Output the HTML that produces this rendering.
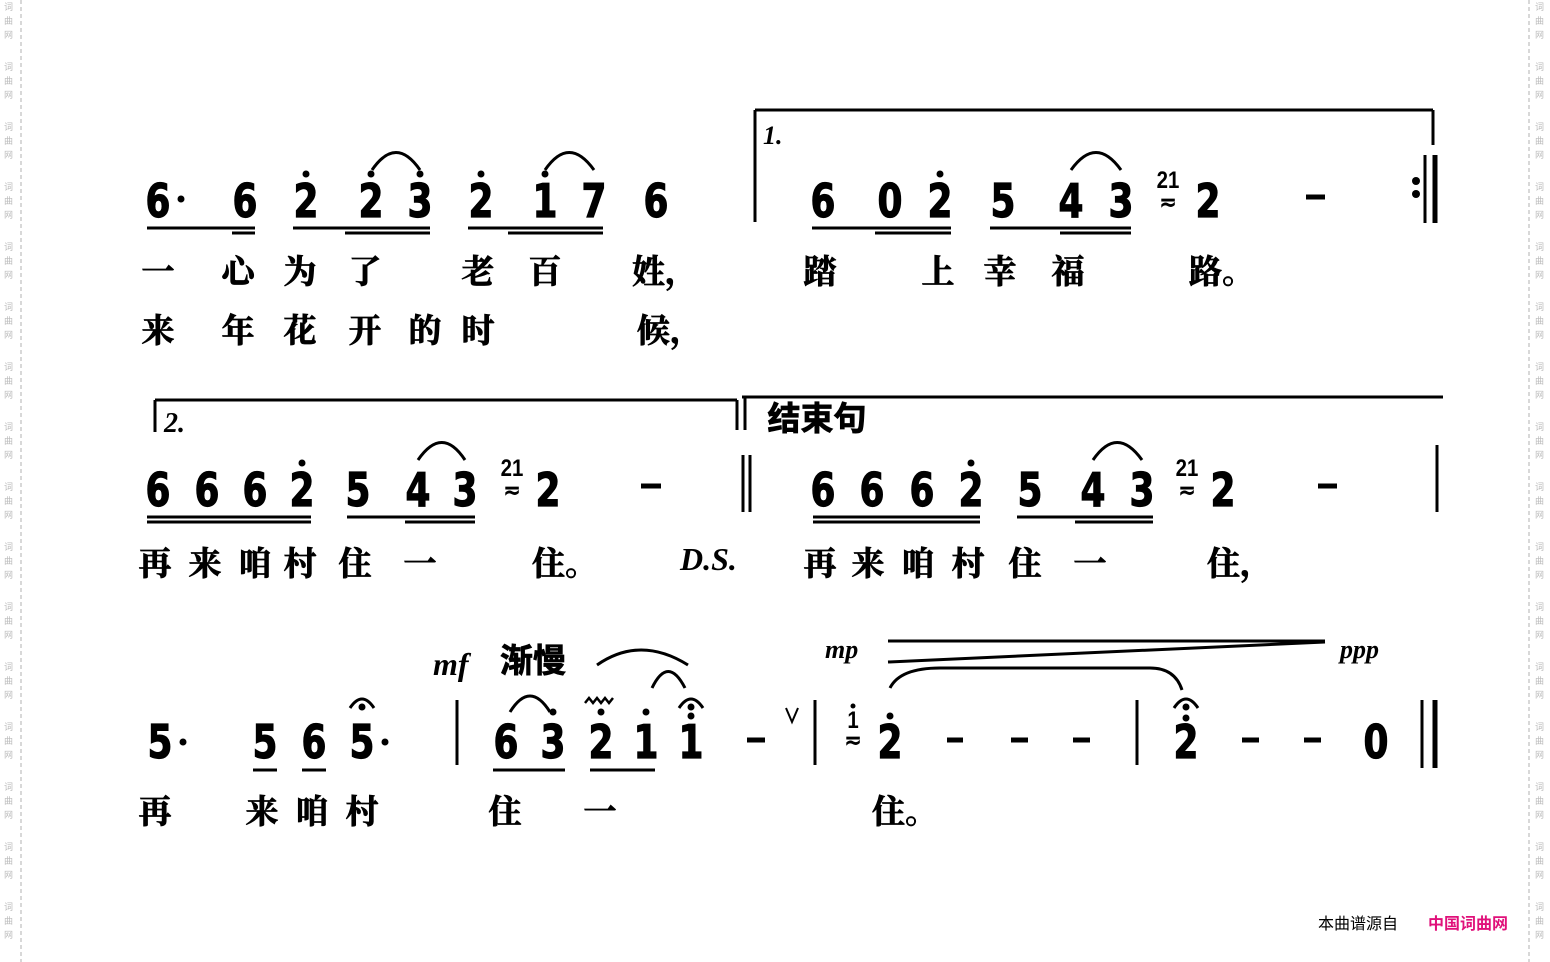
<!DOCTYPE html>
<html><head><meta charset="utf-8"><style>
html,body{margin:0;padding:0;background:#fff;}
svg{display:block}
.d{font-family:"DejaVu Sans","Liberation Sans",sans-serif;font-weight:bold;font-size:46px;text-anchor:middle;fill:#000;stroke:#000;stroke-width:1.2}
.d text{transform-box:fill-box;transform-origin:center;transform:scaleX(0.78)}
.s{font-family:"Liberation Sans",sans-serif;font-weight:bold;font-size:24px;text-anchor:middle;fill:#000;transform-box:fill-box;transform-origin:center;transform:scaleX(0.85)}
.l{font-family:"Liberation Serif","Noto Serif CJK SC",serif;font-weight:bold;font-size:33px;text-anchor:middle;fill:#000;stroke:#000;stroke-width:0.8}
.i{font-family:"Liberation Serif",serif;font-style:italic;font-weight:bold;fill:#000}
.m{font-family:"Noto Sans CJK SC",sans-serif;font-size:9px;fill:#bbb}
</style></head><body>
<svg width="1550" height="962" viewBox="0 0 1550 962" xmlns="http://www.w3.org/2000/svg">
<g stroke="#ccc" stroke-dasharray="4,3" stroke-width="1.5"><line x1="21" y1="0" x2="21" y2="962"/><line x1="1529" y1="0" x2="1529" y2="962"/></g>
<g class="m">
<text x="4" y="10">词</text><text x="4" y="24">曲</text><text x="4" y="38">网</text>
<text x="4" y="70">词</text><text x="4" y="84">曲</text><text x="4" y="98">网</text>
<text x="4" y="130">词</text><text x="4" y="144">曲</text><text x="4" y="158">网</text>
<text x="4" y="190">词</text><text x="4" y="204">曲</text><text x="4" y="218">网</text>
<text x="4" y="250">词</text><text x="4" y="264">曲</text><text x="4" y="278">网</text>
<text x="4" y="310">词</text><text x="4" y="324">曲</text><text x="4" y="338">网</text>
<text x="4" y="370">词</text><text x="4" y="384">曲</text><text x="4" y="398">网</text>
<text x="4" y="430">词</text><text x="4" y="444">曲</text><text x="4" y="458">网</text>
<text x="4" y="490">词</text><text x="4" y="504">曲</text><text x="4" y="518">网</text>
<text x="4" y="550">词</text><text x="4" y="564">曲</text><text x="4" y="578">网</text>
<text x="4" y="610">词</text><text x="4" y="624">曲</text><text x="4" y="638">网</text>
<text x="4" y="670">词</text><text x="4" y="684">曲</text><text x="4" y="698">网</text>
<text x="4" y="730">词</text><text x="4" y="744">曲</text><text x="4" y="758">网</text>
<text x="4" y="790">词</text><text x="4" y="804">曲</text><text x="4" y="818">网</text>
<text x="4" y="850">词</text><text x="4" y="864">曲</text><text x="4" y="878">网</text>
<text x="4" y="910">词</text><text x="4" y="924">曲</text><text x="4" y="938">网</text>
<text x="1535" y="10">词</text><text x="1535" y="24">曲</text><text x="1535" y="38">网</text>
<text x="1535" y="70">词</text><text x="1535" y="84">曲</text><text x="1535" y="98">网</text>
<text x="1535" y="130">词</text><text x="1535" y="144">曲</text><text x="1535" y="158">网</text>
<text x="1535" y="190">词</text><text x="1535" y="204">曲</text><text x="1535" y="218">网</text>
<text x="1535" y="250">词</text><text x="1535" y="264">曲</text><text x="1535" y="278">网</text>
<text x="1535" y="310">词</text><text x="1535" y="324">曲</text><text x="1535" y="338">网</text>
<text x="1535" y="370">词</text><text x="1535" y="384">曲</text><text x="1535" y="398">网</text>
<text x="1535" y="430">词</text><text x="1535" y="444">曲</text><text x="1535" y="458">网</text>
<text x="1535" y="490">词</text><text x="1535" y="504">曲</text><text x="1535" y="518">网</text>
<text x="1535" y="550">词</text><text x="1535" y="564">曲</text><text x="1535" y="578">网</text>
<text x="1535" y="610">词</text><text x="1535" y="624">曲</text><text x="1535" y="638">网</text>
<text x="1535" y="670">词</text><text x="1535" y="684">曲</text><text x="1535" y="698">网</text>
<text x="1535" y="730">词</text><text x="1535" y="744">曲</text><text x="1535" y="758">网</text>
<text x="1535" y="790">词</text><text x="1535" y="804">曲</text><text x="1535" y="818">网</text>
<text x="1535" y="850">词</text><text x="1535" y="864">曲</text><text x="1535" y="878">网</text>
<text x="1535" y="910">词</text><text x="1535" y="924">曲</text><text x="1535" y="938">网</text>
</g>

<!-- ROW 1 -->
<g stroke="#000" stroke-width="3" fill="none">
<line x1="755" y1="110" x2="1433" y2="110"/><line x1="755" y1="110" x2="755" y2="222"/><line x1="1433" y1="110" x2="1433" y2="145"/>
<line x1="1425" y1="155" x2="1425" y2="223"/><line x1="1435" y1="155" x2="1435" y2="223" stroke-width="5"/>
<line x1="147" y1="228" x2="255" y2="228"/><line x1="232" y1="233" x2="255" y2="233"/>
<line x1="293" y1="228" x2="430" y2="228"/><line x1="345" y1="233" x2="430" y2="233"/>
<line x1="468" y1="228" x2="603" y2="228"/><line x1="508" y1="233" x2="603" y2="233"/>
<line x1="812" y1="228" x2="951" y2="228"/><line x1="875" y1="233" x2="951" y2="233"/>
<line x1="990" y1="228" x2="1131" y2="228"/><line x1="1060" y1="233" x2="1131" y2="233"/>
<path d="M372 170 Q396 135 420 170"/><path d="M545 170 Q569 135 594 170"/><path d="M1071 170 Q1096 135 1121 170"/>
<line x1="1306" y1="197" x2="1325" y2="197" stroke-width="5"/>
</g>
<g fill="#000"><circle cx="1416" cy="181" r="4"/><circle cx="1416" cy="194" r="4"/>
<circle cx="306" cy="174" r="3.5"/><circle cx="371" cy="174" r="3.5"/><circle cx="420" cy="174" r="3.5"/><circle cx="481" cy="174" r="3.5"/><circle cx="545" cy="174" r="3.5"/><circle cx="940" cy="174" r="3.5"/>
<circle cx="181" cy="199" r="3.5"/></g>
<text class="i" x="763" y="144" font-size="26">1.</text>
<g class="d"><text x="158" y="217">6</text><text x="245" y="217">6</text><text x="306" y="217">2</text><text x="371" y="217">2</text><text x="420" y="217">3</text><text x="481" y="217">2</text><text x="545" y="217">1</text><text x="594" y="217">7</text><text x="656" y="217">6</text>
<text x="823" y="217">6</text><text x="890" y="217">0</text><text x="940" y="217">2</text><text x="1003" y="217">5</text><text x="1071" y="217">4</text><text x="1121" y="217">3</text><text x="1208" y="217">2</text></g>
<text class="s" x="1168" y="188">21</text><text class="s" x="1168" y="210" font-size="22">≂</text>
<g class="l"><text x="158" y="283">一</text><text x="238" y="283">心</text><text x="300" y="283">为</text><text x="365" y="283">了</text><text x="478" y="283">老</text><text x="545" y="283">百</text><text x="665" y="283">姓，</text><text x="820" y="283">踏</text><text x="938" y="283">上</text><text x="1000" y="283">幸</text><text x="1068" y="283">福</text><text x="1222" y="283">路。</text>
<text x="158" y="342">来</text><text x="238" y="342">年</text><text x="300" y="342">花</text><text x="365" y="342">开</text><text x="425" y="342">的</text><text x="478" y="342">时</text><text x="670" y="342">候，</text></g>

<!-- ROW 2 -->
<g stroke="#000" stroke-width="3" fill="none">
<line x1="155" y1="400" x2="737" y2="400"/><line x1="155" y1="400" x2="155" y2="432"/><line x1="737" y1="400" x2="737" y2="430"/>
<line x1="742" y1="397" x2="1443" y2="397"/><line x1="745" y1="397" x2="745" y2="430"/>
<line x1="743" y1="455" x2="743" y2="512"/><line x1="750" y1="455" x2="750" y2="512"/>
<line x1="1437" y1="445" x2="1437" y2="512"/>
<line x1="147" y1="517" x2="311" y2="517"/><line x1="147" y1="522" x2="311" y2="522"/>
<line x1="347" y1="517" x2="475" y2="517"/><line x1="405" y1="522" x2="475" y2="522"/>
<line x1="813" y1="517" x2="980" y2="517"/><line x1="813" y1="522" x2="980" y2="522"/>
<line x1="1017" y1="517" x2="1153" y2="517"/><line x1="1075" y1="522" x2="1153" y2="522"/>
<path d="M418 460 Q442 425 465 460"/><path d="M1093 460 Q1117 425 1142 460"/>
<line x1="641" y1="486" x2="661" y2="486" stroke-width="5"/><line x1="1318" y1="486" x2="1337" y2="486" stroke-width="5"/>
</g>
<g fill="#000"><circle cx="302" cy="463" r="3.5"/><circle cx="971" cy="463" r="3.5"/></g>
<text class="i" x="164" y="432" font-size="28">2.</text>
<text class="l" x="817" y="430" font-size="32" style="font-family:'Noto Sans CJK SC',sans-serif">结束句</text>
<g class="d"><text x="158" y="506">6</text><text x="207" y="506">6</text><text x="255" y="506">6</text><text x="302" y="506">2</text><text x="358" y="506">5</text><text x="418" y="506">4</text><text x="465" y="506">3</text><text x="548" y="506">2</text>
<text x="823" y="506">6</text><text x="872" y="506">6</text><text x="922" y="506">6</text><text x="971" y="506">2</text><text x="1030" y="506">5</text><text x="1093" y="506">4</text><text x="1142" y="506">3</text><text x="1223" y="506">2</text></g>
<text class="s" x="512" y="476">21</text><text class="s" x="512" y="498" font-size="22">≂</text>
<text class="s" x="1187" y="476">21</text><text class="s" x="1187" y="498" font-size="22">≂</text>
<g class="l"><text x="155" y="575">再</text><text x="205" y="575">来</text><text x="255" y="575">咱</text><text x="300" y="575">村</text><text x="355" y="575">住</text><text x="420" y="575">一</text><text x="565" y="575">住。</text>
<text x="820" y="575">再</text><text x="868" y="575">来</text><text x="918" y="575">咱</text><text x="968" y="575">村</text><text x="1025" y="575">住</text><text x="1090" y="575">一</text><text x="1240" y="575">住，</text></g>
<text class="i" x="680" y="570" font-size="32">D.S.</text>

<!-- ROW 3 -->
<g stroke="#000" stroke-width="3" fill="none">
<line x1="888" y1="641" x2="1325" y2="641"/><line x1="888" y1="662" x2="1325" y2="642"/>
<line x1="457" y1="700" x2="457" y2="765"/><line x1="815" y1="700" x2="815" y2="765"/><line x1="1137" y1="700" x2="1137" y2="765"/>
<line x1="1422" y1="700" x2="1422" y2="768"/><line x1="1435" y1="700" x2="1435" y2="768" stroke-width="5"/>
<line x1="253" y1="770" x2="277" y2="770"/><line x1="302" y1="770" x2="326" y2="770"/>
<line x1="493" y1="770" x2="565" y2="770"/><line x1="590" y1="770" x2="655" y2="770"/>
<path d="M510 712 Q530 680 550 712"/><path d="M597 665 Q640 635 688 665"/><path d="M652 688 Q668 655 685 688"/>
<path d="M890 688 Q900 668 940 668 L1150 668 Q1175 668 1182 690"/>
<path d="M350 708 Q362 690 374 708"/><path d="M679 708 Q691 690 703 708"/><path d="M1174 708 Q1186 690 1198 708"/>
<path d="M585 703 l4 -5 l4 5 l4 -5 l4 5 l4 -5 l4 5 l4 -5" stroke-width="2.5"/>
<path d="M786 708 L792 722 L798 708" stroke-width="2"/>
<line x1="747" y1="740" x2="765" y2="740" stroke-width="5"/>
<line x1="947" y1="740" x2="963" y2="740" stroke-width="5"/><line x1="1011" y1="740" x2="1028" y2="740" stroke-width="5"/><line x1="1073" y1="740" x2="1090" y2="740" stroke-width="5"/>
<line x1="1242" y1="740" x2="1259" y2="740" stroke-width="5"/><line x1="1304" y1="740" x2="1321" y2="740" stroke-width="5"/>
</g>
<g fill="#000"><circle cx="362" cy="707" r="3.5"/><circle cx="691" cy="707" r="3.5"/><circle cx="1186" cy="707" r="3.5"/>
<circle cx="553" cy="712" r="3.5"/><circle cx="601" cy="712" r="3.5"/><circle cx="646" cy="712" r="3.5"/><circle cx="691" cy="716" r="3.5"/><circle cx="890" cy="716" r="3.5"/><circle cx="1186" cy="718" r="3.5"/>
<circle cx="183" cy="742" r="3.5"/><circle cx="385" cy="742" r="3.5"/><circle cx="853" cy="706" r="2.5"/></g>
<text class="i" x="433" y="675" font-size="32">mf</text>
<text class="l" x="533" y="672" style="font-family:'Noto Sans CJK SC',sans-serif" font-size="30">渐慢</text>
<text class="i" x="825" y="658" font-size="26">mp</text>
<text class="i" x="1340" y="658" font-size="26">ppp</text>
<g class="d"><text x="160" y="758">5</text><text x="265" y="758">5</text><text x="314" y="758">6</text><text x="362" y="758">5</text>
<text x="506" y="758">6</text><text x="553" y="758">3</text><text x="601" y="758">2</text><text x="646" y="758">1</text><text x="691" y="758">1</text>
<text x="890" y="758">2</text><text x="1186" y="758">2</text><text x="1376" y="758">0</text></g>
<text class="s" x="853" y="728" font-size="26">1</text><text class="s" x="853" y="748" font-size="20">≂</text>
<g class="l"><text x="155" y="823">再</text><text x="262" y="823">来</text><text x="312" y="823">咱</text><text x="362" y="823">村</text><text x="505" y="823">住</text><text x="600" y="823">一</text><text x="905" y="823">住。</text></g>

<text x="1318" y="929" font-family="'Noto Sans CJK SC',sans-serif" font-size="16" fill="#000">本曲谱源自</text>
<text x="1428" y="929" font-family="'Noto Sans CJK SC',sans-serif" font-size="16" font-weight="bold" fill="#e0107a">中国词曲网</text>
</svg>
</body></html>
